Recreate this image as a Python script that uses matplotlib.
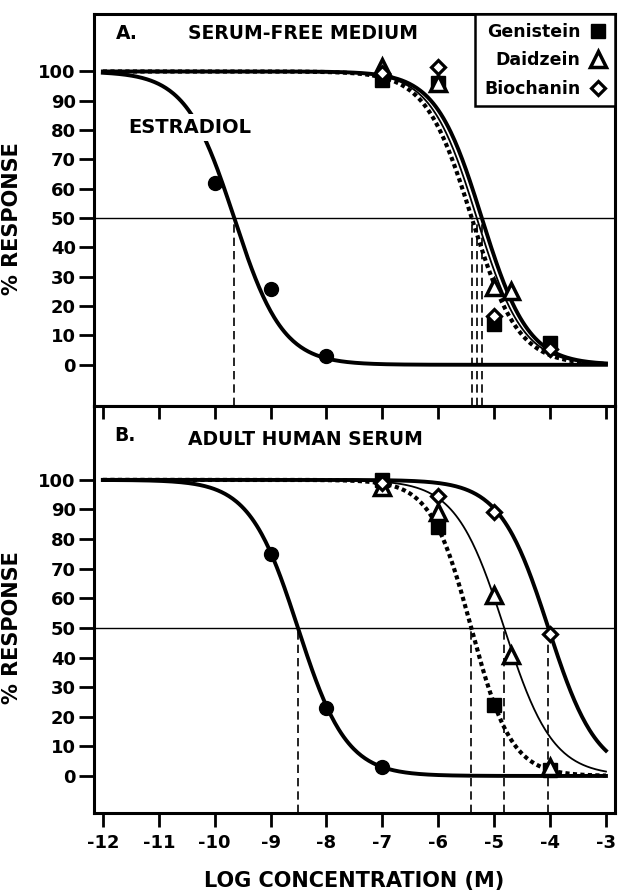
import numpy as np
import matplotlib
matplotlib.use('Agg')
import matplotlib.pyplot as plt
from matplotlib.lines import Line2D

plt.rcParams['font.family'] = 'DejaVu Sans'
plt.rcParams['font.weight'] = 'bold'

# ---- data ----
xticks = [-12, -11, -10, -9, -8, -7, -6, -5, -4, -3]
yticks = [0, 10, 20, 30, 40, 50, 60, 70, 80, 90, 100]

# panel A: serum-free medium
estA_x = [-10, -9, -8]
estA_y = [62, 26, 3]
genA_x = [-7, -6, -5, -4]
genA_y = [97, 96, 14, 7.5]
daiA_x = [-7, -6, -5, -4.7]
daiA_y = [101.5, 96, 26.5, 25]
bioA_x = [-7, -6, -5, -4]
bioA_y = [99.5, 101.5, 16.5, 5.5]

# panel B: adult human serum
estB_x = [-9, -8, -7]
estB_y = [75, 23, 3]
genB_x = [-7, -6, -5, -4]
genB_y = [100, 84, 24, 2]
daiB_x = [-7, -6, -5, -4.7, -4]
daiB_y = [97.5, 89, 61, 41, 3]
bioB_x = [-7, -6, -5, -4]
bioB_y = [99, 94.5, 89, 48]

# fitted curves: log IC50 and Hill slope
estA_fit = (-9.65, 1.0)
genA_fit = (-5.40, 1.05)
daiA_fit = (-5.31, 1.05)
bioA_fit = (-5.22, 1.05)
estB_fit = (-8.51, 1.0)
genB_fit = (-5.41, 1.2)
daiB_fit = (-4.82, 1.0)
bioB_fit = (-4.03, 1.0)


def curve(fit):
    xs = np.linspace(-12, -3, 400)
    return xs, 100.0 / (1.0 + 10 ** ((xs - fit[0]) * fit[1]))


fig = plt.figure(figsize=(6.18, 8.92), dpi=100)
axA = fig.add_axes([0.152, 0.545, 0.843, 0.439])
axB = fig.add_axes([0.152, 0.0886, 0.843, 0.4564])

ylimA = (-14, 119.5)
ylimB = (-12.5, 125)
xlim = (-12.16, -2.84)

dash = (0, (5, 3))
dotted = (0, (1, 0.8))
mk_gen = dict(marker='s', ms=10, mfc='black', mec='black', ls='none')
mk_dai = dict(marker='^', ms=11, mfc='white', mec='black', mew=2.5, ls='none')
mk_bio = dict(marker='D', ms=7.5, mfc='white', mec='black', mew=2.3, ls='none')
mk_est = dict(marker='o', ms=10, mfc='black', mec='black', ls='none')


def panel(ax, ylim, est, gen, dai, bio):
    ax.set_xlim(xlim)
    ax.set_ylim(ylim)
    ax.axhline(50, color='black', lw=1.0, zorder=1)
    for fit in (est[2], gen[2], dai[2], bio[2]):
        ax.vlines(fit[0], ylim[0], 50, colors='black', lw=1.2, linestyles=dash, zorder=1)
    x, y = curve(est[2])
    ax.plot(x, y, color='black', lw=2.8, zorder=2)
    x, y = curve(gen[2])
    ax.plot(x, y, color='black', lw=3.0, ls=dotted, zorder=2)
    x, y = curve(dai[2])
    ax.plot(x, y, color='black', lw=1.3, zorder=2)
    x, y = curve(bio[2])
    ax.plot(x, y, color='black', lw=2.8, zorder=2)
    ax.plot(est[0], est[1], zorder=3, **mk_est)
    ax.plot(gen[0], gen[1], zorder=3, **mk_gen)
    ax.plot(dai[0], dai[1], zorder=4, **mk_dai)
    ax.plot(bio[0], bio[1], zorder=5, **mk_bio)
    ax.set_yticks(yticks)
    ax.set_yticklabels([str(v) for v in yticks], fontsize=13, fontweight='bold')
    ax.tick_params(axis='y', direction='out', length=11, width=2, pad=2)
    ax.set_ylabel('% RESPONSE', fontsize=15, fontweight='bold')
    for s in ax.spines.values():
        s.set_linewidth(2.2)


panel(axA, ylimA, (estA_x, estA_y, estA_fit), (genA_x, genA_y, genA_fit),
      (daiA_x, daiA_y, daiA_fit), (bioA_x, bioA_y, bioA_fit))
panel(axB, ylimB, (estB_x, estB_y, estB_fit), (genB_x, genB_y, genB_fit),
      (daiB_x, daiB_y, daiB_fit), (bioB_x, bioB_y, bioB_fit))

axA.yaxis.set_label_coords(-0.138, (50 - ylimA[0]) / (ylimA[1] - ylimA[0]))
axB.yaxis.set_label_coords(-0.138, (50 - ylimB[0]) / (ylimB[1] - ylimB[0]))

axA.set_xticks([])
axB.set_xticks(xticks)
axB.set_xticklabels([str(v) for v in xticks], fontsize=13, fontweight='bold')
axB.tick_params(axis='x', direction='out', length=10, width=2, pad=5,
                top=True, labeltop=False)
for t in axB.xaxis.get_major_ticks():
    t.tick2line.set_marker(matplotlib.lines.TICKDOWN)
    t.tick2line.set_markersize(9)
axB.set_xlabel('LOG CONCENTRATION (M)', fontsize=15, fontweight='bold', labelpad=14)

axA.text(-11.76, 113, 'A.', fontsize=13.5, fontweight='bold', va='center')
axA.text(-10.48, 113, 'SERUM-FREE MEDIUM', fontsize=13.5, fontweight='bold', va='center')
axA.text(-11.55, 81, 'ESTRADIOL', fontsize=14, fontweight='bold', va='center', zorder=6,
         bbox=dict(facecolor='white', edgecolor='none', pad=3))
axB.text(-11.8, 115, 'B.', fontsize=13.5, fontweight='bold', va='center')
axB.text(-10.48, 113.5, 'ADULT HUMAN SERUM', fontsize=13.5, fontweight='bold', va='center')

handles = [Line2D([], [], **mk_gen), Line2D([], [], **mk_dai), Line2D([], [], **mk_bio)]
leg = axA.legend(handles, ['Genistein', 'Daidzein', 'Biochanin'], loc='upper right',
                 markerfirst=False, frameon=True, fancybox=False, framealpha=1,
                 borderaxespad=0, handlelength=1.0, handletextpad=0.5,
                 labelspacing=0.6, borderpad=0.5, prop={'size': 12.5, 'weight': 'bold'})
leg.get_frame().set_edgecolor('black')
leg.get_frame().set_linewidth(1.8)

plt.savefig('out.png', dpi=100)
